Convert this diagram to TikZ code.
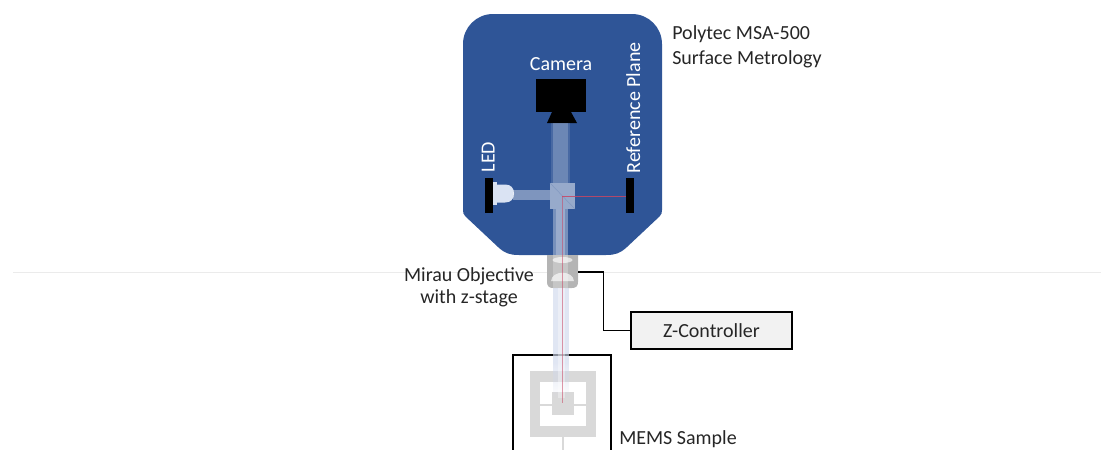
\documentclass[tikz,border=0pt]{standalone}
\usepackage{fontspec}
\setmainfont{Carlito}
\usetikzlibrary{fadings}
\definecolor{housing}{RGB}{47,85,151}
\definecolor{beamlow}{RGB}{208,216,236}
\definecolor{ledcol}{RGB}{218,227,243}
\definecolor{memsgray}{RGB}{217,217,217}
\definecolor{ctrlfill}{RGB}{242,242,242}
\definecolor{rulegray}{RGB}{235,235,235}
\definecolor{lasercol}{RGB}{200,70,100}
\definecolor{labeltext}{RGB}{38,38,38}
\definecolor{objgray}{RGB}{180,180,180}
\definecolor{lensgray}{RGB}{228,228,228}

\begin{document}
\begin{tikzpicture}[x=0.75pt,y=-0.75pt,
  font=\fontsize{15}{18}\selectfont,
  lbl/.style={text=labeltext, inner sep=0pt},
  wlbl/.style={text=white, inner sep=0pt},
  barblk/.style={fill=black},
  laser/.style={draw=lasercol, line width=0.5pt},
  wire/.style={draw=black, line width=1.1pt},
  ctrl/.style={draw=black, line width=1.5pt, fill=ctrlfill, text=labeltext,
    minimum width=121pt, minimum height=28pt, inner sep=0pt},
  memsfill/.style={fill=memsgray}]
\useasboundingbox (0,0) rectangle (1101,450);
\clip (0,0) rectangle (1101,450);

% horizontal rule across the page
\draw[rulegray, line width=1.1pt] (13,272.5) -- (1101,272.5);

% instrument housing
\fill[housing] (493,14) -- (632,14) .. controls (648.6,14) and (662,27.4) .. (662,44)
  -- (662,210) .. controls (662,213) and (661.5,214.5) .. (659.5,216.5)
  -- (627,247) .. controls (620,253.5) and (615,255) .. (606,255)
  -- (519,255) .. controls (510,255) and (505,253.5) .. (498,247)
  -- (465.5,216.5) .. controls (463.5,214.5) and (463,213) .. (463,210)
  -- (463,44) .. controls (463,27.4) and (476.4,14) .. (493,14) -- cycle;

% camera
\fill[black] (536,79) rectangle (586,112);
\fill[black] (552,112) -- (571,112) -- (577,123) -- (547,123) -- cycle;

% LED and reference plane
\fill[barblk] (485,178) rectangle (493,213);
\fill[barblk] (626,178) rectangle (634,213);
\fill[ledcol] (493,182) rectangle (497,205);
\fill[ledcol] (496,184.5) -- (505,184.5) .. controls (511,184.5) and (514,188) .. (514,193.5)
  .. controls (514,199) and (511,202.5) .. (505,202.5) -- (496,202.5) -- cycle;

% light paths inside the housing
\fill[white, opacity=.2] (553,123) rectangle (568,183);
\fill[white, opacity=.12] (551,123) rectangle (570,183);
\fill[white, opacity=.38] (513,190) rectangle (550,200);
\fill[white, opacity=.35] (553,209) rectangle (568,255);
\fill[white, opacity=.25] (556,209) rectangle (565,255);

% beam splitter cube
\fill[white, opacity=.5] (550,183) rectangle (575,209);
\draw[housing!60!white, line width=.4pt] (550,183) -- (575,209);

% Mirau objective
\fill[objgray] (547,255) -- (578,255) -- (578,282) .. controls (578,286) and (576,288) .. (572,288)
  -- (553,288) .. controls (549,288) and (547,286) .. (547,282) -- cycle;
\fill[lensgray] (562.5,260) ellipse [x radius=10, y radius=3];
\fill[lensgray] (551,281) .. controls (552,270) and (573,270) .. (574,281) -- cycle;
\fill[white, opacity=.25] (553,255) rectangle (568,288);
\coordinate (obj-r) at (578,272);

% MEMS sample
\draw[line width=1.5pt] (513,355) rectangle (611,470);
\fill[memsgray] (530,371) rectangle (596,437);
\fill[white] (540,382) rectangle (586,426);
\draw[memsgray, line width=1.5pt] (540,404.5) -- (586,404.5);
\fill[memsgray] (552,392) rectangle (574,415);
\draw[memsgray, line width=.8pt] (563,437) -- (563,452);

% beam between objective and sample
\fill[beamlow, opacity=.65] (553,288) rectangle (569,362);
\fill[beamlow, opacity=.65, path fading=south] (553,362) rectangle (569,398);
\fill[white, opacity=.35] (557.5,288) rectangle (564.5,398);

% reference laser line
\draw[laser, opacity=.85] (562,196) -- (626,196);
\draw[laser, opacity=.55] (562,196) -- (562,403);

% labels
\node[wlbl, anchor=base] (camlabel) at (561,70) {Camera};
\node[wlbl, rotate=90, anchor=base] (ledlabel) at (494.5,157) {LED};
\node[wlbl, rotate=90, anchor=base] (reflabel) at (640,108) {Reference Plane};
\node[lbl, anchor=base west] (title1) at (672,39) {Polytec MSA-500};
\node[lbl, anchor=base west] (title2) at (672,64) {Surface Metrology};
\node[lbl, anchor=base] (objlabel1) at (469,281) {Mirau Objective};
\node[lbl, anchor=base] (objlabel2) at (469,303.5) {with z-stage};
\node[lbl, anchor=base west] (memslabel) at (619,444) {MEMS Sample};

% z-stage controller
\node[ctrl] (zctrl) at (711.5,330.5) {Z-Controller};
\coordinate (wirebend) at (603.5,272);
\draw[wire] (obj-r) -- (wirebend) |- (zctrl.west);
\end{tikzpicture}
\end{document}
